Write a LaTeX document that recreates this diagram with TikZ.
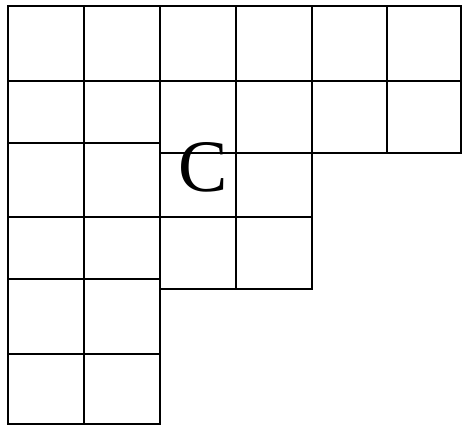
\documentclass[tikz,border=0pt]{standalone}
\usepackage{fontspec}
\setmainfont{Liberation Serif}
\usepackage{tikz}

\begin{document}
\begin{tikzpicture}[x=1pt, y=-1pt,
  cell/.style={draw=black, line width=2pt},
  letter/.style={inner sep=0pt, font=\fontsize{74}{74}\selectfont}]

  \useasboundingbox (0,0) rectangle (462,425);

  % --- left block, two columns, six rows ---
  \foreach \ya/\yb in {6/81,81/143,143/217,217/279,279/354,354/424}
    \foreach \xa/\xb in {8/84,84/160}
      \draw[cell] (\xa,\ya) rectangle (\xb,\yb);

  % --- middle block, two columns, four rows ---
  \foreach \ya/\yb in {6/81,81/153,153/217,217/289}
    \foreach \xa/\xb in {160/236,236/312}
      \draw[cell] (\xa,\ya) rectangle (\xb,\yb);

  % --- right block, two columns, two rows ---
  \foreach \ya/\yb in {6/81,81/153}
    \foreach \xa/\xb in {312/387,387/461}
      \draw[cell] (\xa,\ya) rectangle (\xb,\yb);

  % --- label ---
  \node[letter] (c) at (203,167) {C};
\end{tikzpicture}
\end{document}
